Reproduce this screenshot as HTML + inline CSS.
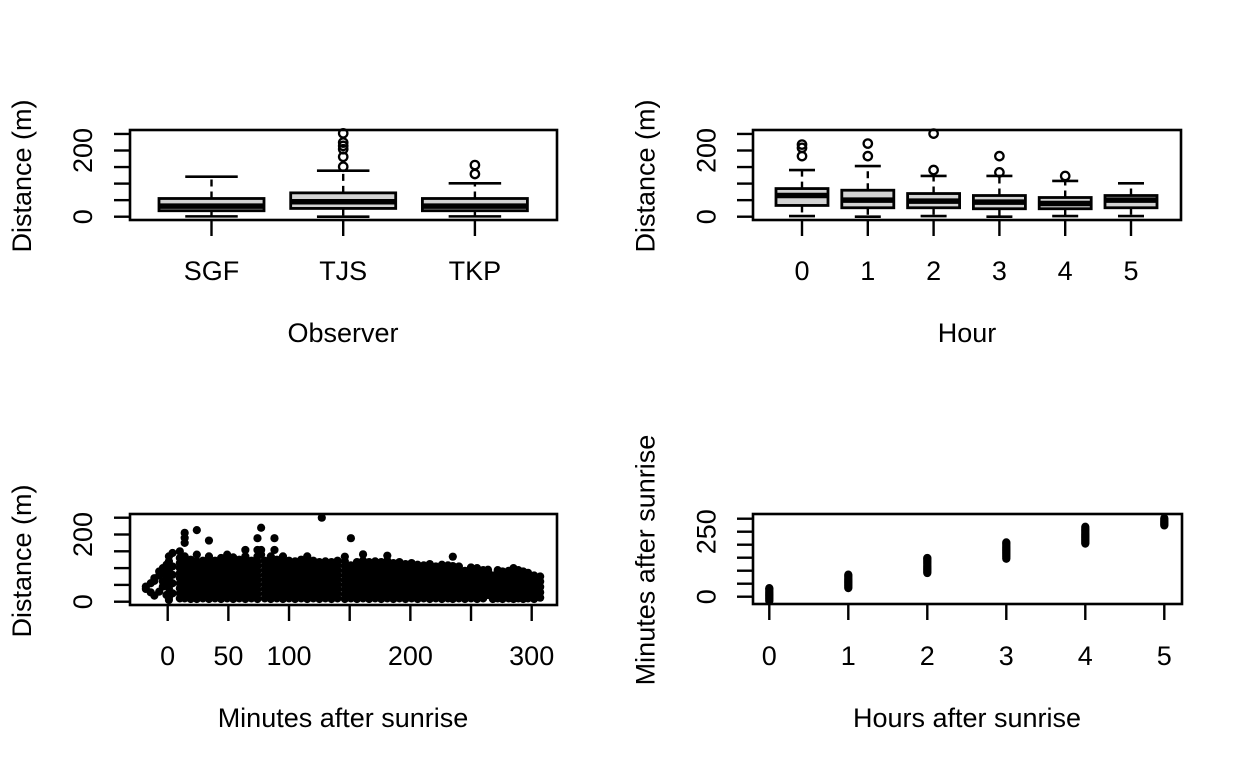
<!DOCTYPE html>
<html><head><meta charset="utf-8"><style>
html,body{margin:0;padding:0;background:#fff;}
svg{display:block;font-family:"Liberation Sans",Arial,sans-serif;}
</style></head><body>
<svg id="fig" width="1248" height="768" viewBox="0 0 1248 768" xmlns="http://www.w3.org/2000/svg"></svg>
<script>
// ---- Panel 1: Distance by observer ----
const observers = ["SGF","TJS","TKP"];
const obsLow = [1,0,1];
const obsQ1 = [18,25,18];
const obsMed = [32,45,32];
const obsQ3 = [55,72,55];
const obsHigh = [121,139,101];
const obsOutliers = [[],[252,224,214,204,181,151],[156,129]];
// ---- Panel 2: Distance by hour ----
const hours = ["0","1","2","3","4","5"];
const hrLow = [2,0,2,0,2,2];
const hrQ1 = [34,27,27,24,24,27];
const hrMed = [64,50,47,44,40,50];
const hrQ3 = [85,80,70,64,58,64];
const hrHigh = [141,153,123,123,108,101];
const hrOutliers = [[218,208,183],[221,183],[251,141],[183,134],[123],[]];
// ---- Panel 3: distance vs minutes (columns of points) ----
const colMinutes = [-18,-14,-11,-7,-4,-1,1,4,10,14,19,24,29,34,39,44,49,54,59,64,69,74,77,80,85,88,90,95,100,105,110,115,120,125,127,130,135,140,146,151,156,161,166,171,176,181,186,191,196,201,206,211,216,221,226,231,235,240,245,250,255,260,264,268,272,276,281,285,289,293,297,302,307];
const colDists = [
[38,45],[28,55],[18,62,70],[30,78,90],[45,60,85,100],[20,50,70,95,110],[5,12,40,65,90,120,135],[25,55,80,105,145],
[10,25,40,55,70,85,100,115,130,150],[10,22,36,50,64,78,92,106,120,135,175,190,205],[8,20,35,50,65,80,95,110,125],
[8,22,36,50,64,78,92,106,120,140,213],[10,24,38,52,66,80,94,108,122],[8,22,36,50,64,78,92,106,120,135,182],
[10,24,38,52,66,80,94,108,122],[8,22,36,50,64,78,92,106,120,130],[10,24,38,52,66,80,94,108,122,140],
[8,22,36,50,64,78,92,106,120,132],[10,24,38,52,66,80,94,108,125],[8,22,36,50,64,78,92,106,120,135,154],
[10,24,38,52,66,80,94,108,122],[8,22,36,50,64,78,92,106,120,135,154,189],[220,154,140],
[10,24,38,52,66,80,94,108,122],[8,22,36,50,64,78,92,106,120,135],[154,189],[10,24,38,52,66,80,94,108,125],
[8,22,36,50,64,78,92,106,120,135],[10,24,38,52,66,80,94,108,122],[8,22,36,50,64,78,92,106,120],
[10,24,38,52,66,80,94,108,125],[8,22,36,50,64,78,92,106,120,135],[10,24,38,52,66,80,94,108,122],
[8,22,36,50,64,78,92,106,118],[250],[10,24,38,52,66,80,94,108,120],[8,22,36,50,64,78,92,106,118],
[10,24,38,52,66,80,94,108,122],[8,22,36,50,64,78,92,106,120,134],[10,24,38,52,66,80,94,108,189],
[8,22,36,50,64,78,92,106,118],[10,24,38,52,66,80,94,108,122,141],[8,22,36,50,64,78,92,106,118],
[10,24,38,52,66,80,94,108,120],[8,22,36,50,64,78,92,106,118],[10,24,38,52,66,80,94,108,122,137],
[8,22,36,50,64,78,92,106,115],[10,24,38,52,66,80,94,108,118],[8,22,36,50,64,78,92,106,112],
[10,24,38,52,66,80,94,108,115],[8,22,36,50,64,78,92,106,110],[10,24,38,52,66,80,94,108],
[8,22,36,50,64,78,92,106,112],[10,24,38,52,66,80,94,105],[8,22,36,50,64,78,92,104,110],
[10,24,38,52,66,80,94,108],[8,22,36,50,64,78,92,106,134],[10,24,38,52,66,80,94,105],
[8,22,36,50,64,78,92],[10,24,38,52,66,80,94,102],[8,22,36,50,64,78,92,100],[10,24,38,52,66,80,94],
[20,36,50,64,78,92,95],[8,22,36,50,64,78],[10,24,38,52,66,80,94],[8,22,36,50,64,78,90],
[10,24,38,52,66,80,92],[8,22,36,50,64,78,88,100],[10,24,38,52,66,80,94],[8,22,36,50,64,78,90],
[10,24,38,52,66,80,86],[8,22,36,50,64,78],[12,28,44,60,75]];
const minTicks = [0,50,100,150,200,250,300];
const minTickLabels = ["0","50","100","","200","","300"];
// ---- Panel 4: minutes vs hours ----
const hourVals = [0,1,2,3,4,5];
const hourMinutes = [
[-17,-13,-9,-5,-1,3,7,11,15,19,23,27,31,33],
[33,37,41,45,49,53,57,61,65,69,73,77,81,85],
[91,95,99,103,107,111,115,119,123,127,131,135,139,143,147,149],
[146,150,154,158,162,166,170,174,178,182,186,190,194,198,202,206,209],
[204,208,212,216,220,224,228,232,236,240,244,248,252,256,260,264,269],
[274,278,282,286,290,294,298,302]];
const distTicks = [0,50,100,150,200,250];
const distTickLabels = ["0","","","","200",""];
const minYTicks = [0,50,100,150,200,250,300];
const minYTickLabels = ["0","","","","","250",""];

const svg = document.getElementById('fig');
const NS = "http://www.w3.org/2000/svg";
const FS = 27;
function mk(tag, attrs, parent){
  const e = document.createElementNS(NS, tag);
  for (const k in attrs) e.setAttribute(k, attrs[k]);
  (parent||svg).appendChild(e);
  return e;
}
function txt(parent, x, y, s, rot){
  const t = mk('text', {x:x, y:y, 'font-size':FS, 'text-anchor':'middle', fill:'#000'}, parent);
  if (rot) t.setAttribute('transform', 'rotate(-90 '+x+' '+y+')');
  t.textContent = s;
  return t;
}
function frame(g, x0, y0, x1, y1){
  const r = mk('rect', {x:x0, y:y0, width:x1-x0, height:y1-y0, fill:'none', stroke:'#000', 'stroke-width':2.6}, g);
  
  
}
function yAxis(g, frameX, ticks, labels, ys, labX){
  const ax = mk('g', {}, g);
  
  
  ticks.forEach((v,i)=>{
    const y = ys(v);
    mk('line', {x1:frameX-16, x2:frameX, y1:y, y2:y, stroke:'#000', 'stroke-width':2.4}, ax);
    if (labels[i]) txt(ax, labX, y, labels[i], true);
  });
}
function xAxis(g, frameY, ticks, labels, xs, labY){
  const ax = mk('g', {}, g);
  
  
  ticks.forEach((v,i)=>{
    const x = xs(v);
    mk('line', {x1:x, x2:x, y1:frameY, y2:frameY+16, stroke:'#000', 'stroke-width':2.4}, ax);
    if (labels[i]) txt(ax, x, labY, labels[i]);
  });
}
function boxplot(g, cx, hw, ys, lo, q1, md, q3, hi, outs, name){
  const b = mk('g', {}, g);
  
  
  const cap = hw/2;
  mk('line', {x1:cx, x2:cx, y1:ys(q3), y2:ys(hi), stroke:'#000', 'stroke-width':2.4, 'stroke-dasharray':'7,5'}, b);
  mk('line', {x1:cx, x2:cx, y1:ys(q1), y2:ys(lo), stroke:'#000', 'stroke-width':2.4, 'stroke-dasharray':'7,5'}, b);
  mk('line', {x1:cx-cap, x2:cx+cap, y1:ys(hi), y2:ys(hi), stroke:'#000', 'stroke-width':2.6}, b);
  mk('line', {x1:cx-cap, x2:cx+cap, y1:ys(lo), y2:ys(lo), stroke:'#000', 'stroke-width':2.6}, b);
  mk('rect', {x:cx-hw, y:ys(q3), width:2*hw, height:ys(q1)-ys(q3), fill:'#d3d3d3', stroke:'#000', 'stroke-width':2.8}, b);
  mk('line', {x1:cx-hw, x2:cx+hw, y1:ys(md), y2:ys(md), stroke:'#000', 'stroke-width':5.5}, b);
  outs.forEach(v=>{
    mk('circle', {cx:cx, cy:ys(v), r:4.2, fill:'none', stroke:'#000', 'stroke-width':2.3}, b);
  });
}

// Panel 1
(function(){
  const g = mk('g', {});
  
  
  const ys = v => 216.7 - v*0.331;
  const xs = i => 211.5 + i*131.7;
  observers.forEach((o,i)=>boxplot(g, xs(i), 52.5, ys, obsLow[i], obsQ1[i], obsMed[i], obsQ3[i], obsHigh[i], obsOutliers[i], 'box-'+o.toLowerCase()));
  frame(g, 130, 130, 557, 220);
  yAxis(g, 130, distTicks, distTickLabels, ys, 92);
  xAxis(g, 220, observers.map((o,i)=>i), observers, xs, 280);
  const t1 = txt(g, 343, 342, 'Observer');
  
  const t2 = txt(g, 31, 176, 'Distance (m)', true);
  
})();

// Panel 2
(function(){
  const g = mk('g', {});
  
  
  const ys = v => 216.7 - v*0.331;
  const xs = i => 802 + i*65.8;
  hours.forEach((h,i)=>boxplot(g, xs(i), 26, ys, hrLow[i], hrQ1[i], hrMed[i], hrQ3[i], hrHigh[i], hrOutliers[i], 'box-hour-'+h));
  frame(g, 753, 130, 1181, 220);
  yAxis(g, 753, distTicks, distTickLabels, ys, 715.5);
  xAxis(g, 220, hours.map((h,i)=>i), hours, xs, 280);
  const t1 = txt(g, 967, 342, 'Hour');
  
  const t2 = txt(g, 654.5, 176, 'Distance (m)', true);
  
})();

// Panel 3
(function(){
  const g = mk('g', {});
  
  
  const xs = m => 167.7 + m*1.2133;
  const ys = v => 601.7 - v*0.336;
  const pts = mk('g', {fill:'#000'}, g);
  
  
  colMinutes.forEach((m,i)=>{
    colDists[i].forEach(d=>{
      const c = mk('circle', {cx:xs(m), cy:ys(d), r:4.1}, pts);
      
      
    });
  });
  frame(g, 130, 514, 557, 605);
  yAxis(g, 130, distTicks, distTickLabels, ys, 92);
  xAxis(g, 605, minTicks, minTickLabels, xs, 665);
  const t1 = txt(g, 343, 727, 'Minutes after sunrise');
  
  const t2 = txt(g, 31, 561, 'Distance (m)', true);
  
})();

// Panel 4
(function(){
  const g = mk('g', {});
  
  
  const xs = h => 769.3 + h*79;
  const ys = m => 596.7 - m*0.26;
  const pts = mk('g', {fill:'#000'}, g);
  
  
  hourVals.forEach((h,i)=>{
    hourMinutes[i].forEach(m=>{
      const c = mk('circle', {cx:xs(h), cy:ys(m), r:4.1}, pts);
      
      
    });
  });
  frame(g, 753, 514, 1182, 604);
  yAxis(g, 753, minYTicks, minYTickLabels, ys, 715.5);
  xAxis(g, 604, hourVals, hourVals.map(String), xs, 665);
  const t1 = txt(g, 967, 727, 'Hours after sunrise');
  
  const t2 = txt(g, 654.5, 560, 'Minutes after sunrise', true);
  
})();
</script>
</body></html>
